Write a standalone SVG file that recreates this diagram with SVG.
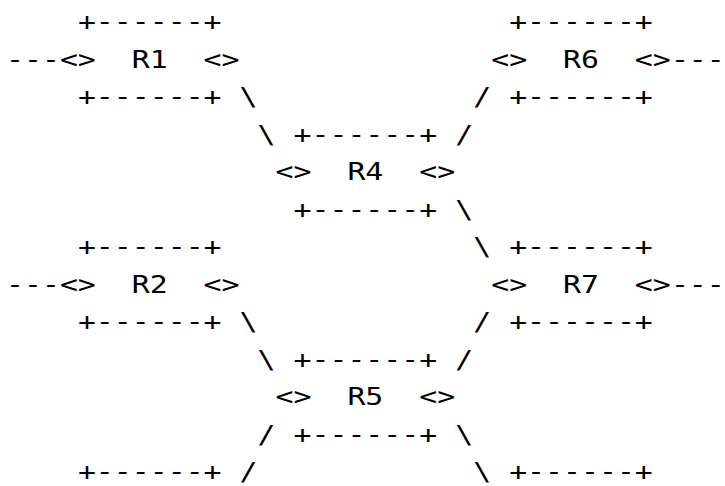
<svg xmlns="http://www.w3.org/2000/svg" width="725" height="486" viewBox="0 0 725 486" xml:space="preserve">
<style>
text { font-family: "DejaVu Sans Mono", "Liberation Mono", monospace; font-size: 25px; fill: #000; white-space: pre; }
</style>
<rect width="725" height="486" fill="#fff"/>
<g transform="scale(1.194,1)">
<g id="R1">
<text x="65.225" y="30.5">+------+</text>
<text x="50.175" y="68">&lt;&gt;  R1  &lt;&gt;</text>
<text x="65.225" y="105.5">+------+</text>
</g>
<g id="R6">
<text x="426.425" y="30.5">+------+</text>
<text x="411.375" y="68">&lt;&gt;  R6  &lt;&gt;</text>
<text x="426.425" y="105.5">+------+</text>
</g>
<g id="R4">
<text x="245.825" y="143">+------+</text>
<text x="230.775" y="180.5">&lt;&gt;  R4  &lt;&gt;</text>
<text x="245.825" y="218">+------+</text>
</g>
<g id="R2">
<text x="65.225" y="255.5">+------+</text>
<text x="50.175" y="293">&lt;&gt;  R2  &lt;&gt;</text>
<text x="65.225" y="330.5">+------+</text>
</g>
<g id="R7">
<text x="426.425" y="255.5">+------+</text>
<text x="411.375" y="293">&lt;&gt;  R7  &lt;&gt;</text>
<text x="426.425" y="330.5">+------+</text>
</g>
<g id="R5">
<text x="245.825" y="368">+------+</text>
<text x="230.775" y="405.5">&lt;&gt;  R5  &lt;&gt;</text>
<text x="245.825" y="443">+------+</text>
</g>
<g id="box-bottom-left">
<text x="65.225" y="480.5">+------+</text>
</g>
<g id="box-bottom-right">
<text x="426.425" y="480.5">+------+</text>
</g>
<g id="connectors">
<text x="5.025" y="68">---</text>
<text x="561.875" y="68">---</text>
<text x="5.025" y="293">---</text>
<text x="561.875" y="293">---</text>
<text x="200.675" y="105.5">\</text>
<text x="396.325" y="105.5">/</text>
<text x="215.725" y="143">\</text>
<text x="381.275" y="143">/</text>
<text x="381.275" y="218">\</text>
<text x="396.325" y="255.5">\</text>
<text x="200.675" y="330.5">\</text>
<text x="396.325" y="330.5">/</text>
<text x="215.725" y="368">\</text>
<text x="381.275" y="368">/</text>
<text x="215.725" y="443">/</text>
<text x="381.275" y="443">\</text>
<text x="200.675" y="480.5">/</text>
<text x="396.325" y="480.5">\</text>
</g>
</g>
</svg>
